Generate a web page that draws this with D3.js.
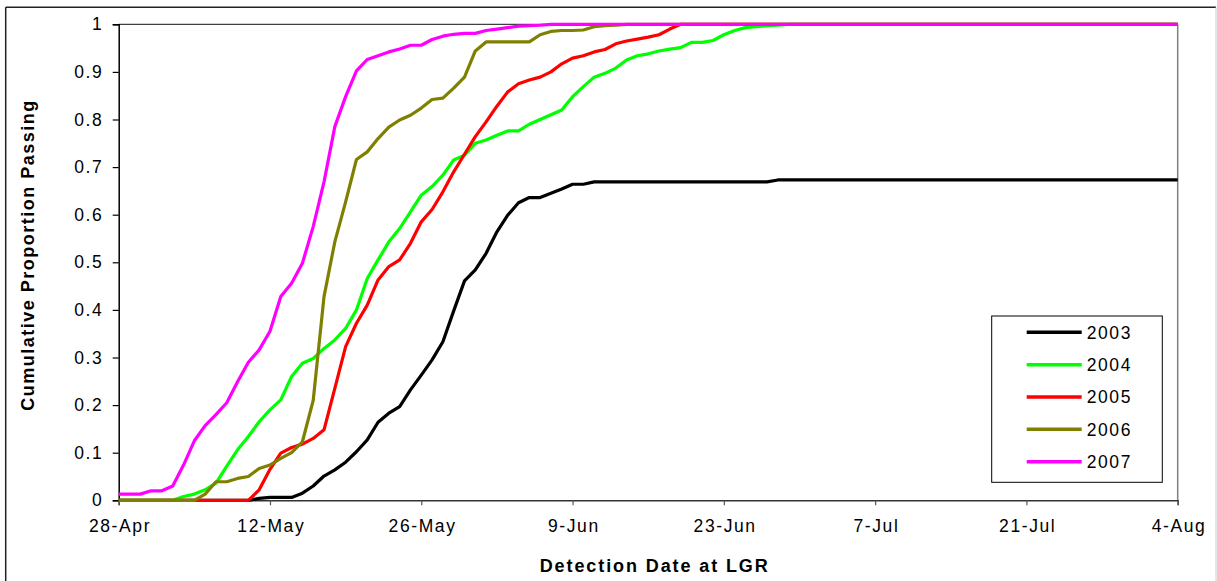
<!DOCTYPE html>
<html>
<head>
<meta charset="utf-8">
<script src="https://cdn.jsdelivr.net/npm/d3@7"></script>
<style>
  body { margin: 0; background: #fff; }
  text { font-family: Arial, "Liberation Sans", sans-serif; fill: #000; }
</style>
</head>
<body>
<div id="chart"></div>
<script>
// Setting up constants
const FRAME_HEIGHT = 581;
const FRAME_WIDTH = 1217;
const MARGINS = {left: 118.7, right: 39.3, top: 24.3, bottom: 80.7};

const VIS_HEIGHT = FRAME_HEIGHT - MARGINS.top - MARGINS.bottom;
const VIS_WIDTH = FRAME_WIDTH - MARGINS.left - MARGINS.right;

// data: one value per day starting 28-Apr,
// the last value holds flat up to END_DAY
const START_DATE = new Date(2007, 3, 28);
const END_DAY = 98;
const X_TICK_LABELS = ["28-Apr", "12-May", "26-May", "9-Jun", "23-Jun", "7-Jul", "21-Jul", "4-Aug"];
const Y_TICKS = [0, 0.1, 0.2, 0.3, 0.4, 0.5, 0.6, 0.7, 0.8, 0.9, 1];
const YEARS = ["2003", "2004", "2005", "2006", "2007"];
const COLORS = ["#000000", "#00ff00", "#ff0000", "#808000", "#ff00ff"];

const VALUES_2003 = [0, 0, 0, 0, 0, 0, 0, 0, 0, 0, 0, 0, 0, 0.004, 0.006, 0.006, 0.006, 0.015, 0.03, 0.051,
  0.064, 0.08, 0.102, 0.127, 0.164, 0.183, 0.197, 0.232, 0.263, 0.295, 0.333, 0.398, 0.461, 0.484, 0.519,
  0.564, 0.599, 0.625, 0.636, 0.636, 0.645, 0.654, 0.664, 0.664, 0.669, 0.669, 0.669, 0.669, 0.669, 0.669,
  0.669, 0.669, 0.669, 0.669, 0.669, 0.669, 0.669, 0.669, 0.669, 0.669, 0.669, 0.673];
const VALUES_2004 = [0, 0, 0, 0, 0, 0, 0.008, 0.013, 0.022, 0.036, 0.072, 0.106, 0.134, 0.165, 0.19, 0.211,
  0.26, 0.288, 0.298, 0.319, 0.337, 0.361, 0.40, 0.466, 0.505, 0.543, 0.571, 0.606, 0.641, 0.659, 0.683,
  0.715, 0.725, 0.75, 0.757, 0.767, 0.776, 0.776, 0.79, 0.80, 0.81, 0.82, 0.848, 0.869, 0.889, 0.897, 0.908,
  0.925, 0.934, 0.938, 0.944, 0.948, 0.951, 0.962, 0.962, 0.966, 0.978, 0.987, 0.993, 0.995, 0.997, 0.998, 1];
const VALUES_2005 = [0, 0, 0, 0, 0, 0, 0, 0, 0, 0, 0, 0, 0, 0.022, 0.065, 0.099, 0.111, 0.118, 0.13, 0.148,
  0.235, 0.323, 0.372, 0.41, 0.463, 0.491, 0.505, 0.54, 0.585, 0.611, 0.648, 0.69, 0.727, 0.764, 0.795, 0.828,
  0.858, 0.875, 0.883, 0.889, 0.90, 0.917, 0.929, 0.934, 0.942, 0.947, 0.959, 0.965, 0.969, 0.973, 0.978, 0.99, 1];
const VALUES_2006 = [0, 0, 0, 0, 0, 0, 0, 0, 0.013, 0.039, 0.039, 0.046, 0.05, 0.067, 0.074, 0.088, 0.10, 0.123,
  0.21, 0.428, 0.543, 0.627, 0.716, 0.732, 0.76, 0.784, 0.799, 0.809, 0.824, 0.842, 0.845, 0.866, 0.889, 0.944,
  0.963, 0.963, 0.963, 0.963, 0.963, 0.978, 0.985, 0.987, 0.987, 0.988, 0.995, 0.997, 0.998, 1];
const VALUES_2007 = [0.013, 0.013, 0.013, 0.02, 0.02, 0.03, 0.074, 0.125, 0.157, 0.18, 0.205, 0.249, 0.29,
  0.316, 0.355, 0.428, 0.456, 0.498, 0.575, 0.669, 0.785, 0.848, 0.902, 0.926, 0.934, 0.942, 0.948, 0.956,
  0.956, 0.968, 0.975, 0.979, 0.981, 0.981, 0.987, 0.99, 0.993, 0.996, 0.997, 0.998, 1];

const ALL_VALUES = [VALUES_2003, VALUES_2004, VALUES_2005, VALUES_2006, VALUES_2007];

// helper: day offset to a date
function dayToDate(n) {
  return d3.timeDay.offset(START_DATE, n);
}

// build one point list per year
const series = YEARS.map((year, i) => {
  const vals = ALL_VALUES[i];
  const pts = vals.map((v, d) => ({date: dayToDate(d), value: v}));
  pts.push({date: dayToDate(END_DAY), value: vals[vals.length - 1]});
  return {year: year, color: COLORS[i], points: pts};
});

const FRAME = d3.select("#chart")
  .append("svg")
    .attr("width", FRAME_WIDTH)
    .attr("height", FRAME_HEIGHT);

// outer chart border
FRAME.append("line")
  .attr("x1", 5.7).attr("x2", 1216).attr("y1", 7.3).attr("y2", 7.3)
  .attr("stroke", "#222").attr("stroke-width", 1.5);
FRAME.append("line")
  .attr("x1", 5.7).attr("x2", 5.7).attr("y1", 7.3).attr("y2", 581)
  .attr("stroke", "#222").attr("stroke-width", 1.5);
FRAME.append("line")
  .attr("x1", 1216).attr("x2", 1216).attr("y1", 7.3).attr("y2", 581)
  .attr("stroke", "#ccc").attr("stroke-width", 1);

// scales
const X_SCALE = d3.scaleTime()
  .domain([dayToDate(0), dayToDate(END_DAY)])
  .range([0, VIS_WIDTH]);

const Y_SCALE = d3.scaleLinear()
  .domain([0, 1])
  .range([VIS_HEIGHT, 0]);

const X_TICKS = X_TICK_LABELS.map((lab, i) => dayToDate(i * 14));

const PLOT = FRAME.append("g")
  .attr("transform", "translate(" + MARGINS.left + "," + MARGINS.top + ")");

// plot area border (top and right)
PLOT.append("line")
  .attr("x1", 0).attr("x2", VIS_WIDTH).attr("y1", 0).attr("y2", 0)
  .attr("stroke", "#111").attr("stroke-width", 1);
PLOT.append("line")
  .attr("x1", VIS_WIDTH).attr("x2", VIS_WIDTH).attr("y1", 0).attr("y2", VIS_HEIGHT)
  .attr("stroke", "#808080").attr("stroke-width", 1.5);

// x-axis
const xAxis = PLOT.append("g")
  .attr("transform", "translate(0," + VIS_HEIGHT + ")")
  .call(d3.axisBottom(X_SCALE)
    .tickValues(X_TICKS)
    .tickFormat((d, i) => X_TICK_LABELS[i])
    .tickSizeOuter(0)
    .tickSize(5)
    .tickPadding(14.5));
xAxis.select(".domain").attr("stroke", "#333").attr("stroke-width", 1.5);
xAxis.selectAll(".tick line").attr("stroke", "#555").attr("stroke-width", 1.2);
xAxis.selectAll(".tick text")
  .attr("font-size", "17.5px")
  .attr("letter-spacing", "1.6px")
  .attr("dx", "0.8px")
  .attr("fill", "#000");

// y-axis
const yAxis = PLOT.append("g")
  .call(d3.axisLeft(Y_SCALE)
    .tickValues(Y_TICKS)
    .tickFormat(d => String(+d.toFixed(1)))
    .tickSizeOuter(0)
    .tickSize(6)
    .tickPadding(9.4));
yAxis.select(".domain").attr("stroke", "#000").attr("stroke-width", 1.5);
yAxis.selectAll(".tick line").attr("stroke", "#000").attr("stroke-width", 1.2);
yAxis.selectAll(".tick text")
  .attr("font-size", "17.5px")
  .attr("letter-spacing", "1.6px")
  .attr("fill", "#000");

// lines
const line = d3.line()
  .x(d => X_SCALE(d.date))
  .y(d => Y_SCALE(d.value));

PLOT.selectAll(".series")
  .data(series)
  .enter().append("path")
    .attr("class", "series")
    .attr("d", d => line(d.points))
    .attr("fill", "none")
    .attr("stroke", d => d.color)
    .attr("stroke-width", 3.2)
    .attr("stroke-linejoin", "round");

// axis titles
FRAME.append("text")
  .attr("x", 654.7)
  .attr("y", 571.7)
  .attr("text-anchor", "middle")
  .attr("font-size", "18px")
  .attr("font-weight", "bold")
  .attr("letter-spacing", "1.9px")
  .text("Detection Date at LGR");

FRAME.append("text")
  .attr("transform", "translate(33.5,255) rotate(-90)")
  .attr("text-anchor", "middle")
  .attr("font-size", "18px")
  .attr("font-weight", "bold")
  .attr("letter-spacing", "1.5px")
  .text("Cumulative Proportion Passing");

// legend
const LEGEND = FRAME.append("g");
LEGEND.append("rect")
  .attr("x", 991.7).attr("y", 316)
  .attr("width", 170.6).attr("height", 166.3)
  .attr("fill", "#fff")
  .attr("stroke", "#000").attr("stroke-width", 1);

const ROW_Y = d3.scaleLinear().domain([0, 4]).range([332.3, 461.7]);

const rows = LEGEND.selectAll(".row")
  .data(series)
  .enter().append("g")
    .attr("class", "row")
    .attr("transform", (d, i) => "translate(0," + ROW_Y(i) + ")");

rows.append("line")
  .attr("x1", 1026.7).attr("x2", 1081.7)
  .attr("stroke", d => d.color)
  .attr("stroke-width", 3.5);

rows.append("text")
  .attr("x", 1086.7)
  .attr("y", 6.3)
  .attr("font-size", "17.5px")
  .attr("letter-spacing", "1.6px")
  .text(d => d.year);
</script>
</body>
</html>
